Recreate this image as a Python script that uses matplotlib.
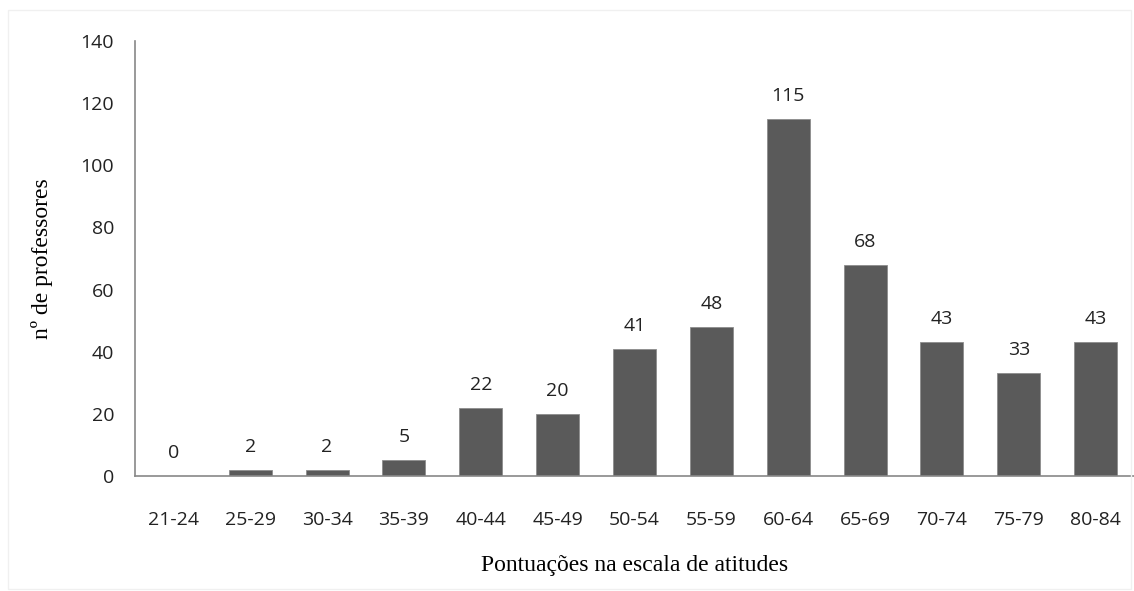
import matplotlib.pyplot as plt
from matplotlib.patches import Rectangle

# Categories and counts.
categories = ['21-24', '25-29', '30-34', '35-39', '40-44', '45-49', '50-54',
              '55-59', '60-64', '65-69', '70-74', '75-79', '80-84']
counts = [0, 2, 2, 5, 22, 20, 41, 48, 115, 68, 43, 33, 43]
yticks = [0, 20, 40, 60, 80, 100, 120, 140]

fig = plt.figure(figsize=(11.34, 5.91), dpi=100)
ax = fig.add_axes([0.119, 0.1946, 0.881, 0.736])

# Thin light frame around the whole picture.
fig.patches.append(Rectangle((0.007, 0.003), 0.99, 0.98, transform=fig.transFigure,
                             fill=False, edgecolor='#f0f0f0', linewidth=1))

x = range(len(categories))
ax.bar(x, counts, width=0.56, color='#5a5a5a', edgecolor='#8c8c8c', linewidth=0.6)

# Value labels above bars.
for i, v in enumerate(counts):
    ax.text(i, v + 4.5, str(v), ha='center', va='bottom', fontsize=14,
            family='Open Sans', color='#222222')

ax.set_xlim(-0.5, len(categories) - 0.5)
ax.set_ylim(0, 140)
ax.set_yticks(yticks)
ax.set_xticks(list(x))
ax.set_xticklabels(categories)
ax.tick_params(length=0, labelsize=14, colors='#222222')
ax.tick_params(axis='x', pad=25)
ax.tick_params(axis='y', pad=15)
for lab in ax.get_xticklabels() + ax.get_yticklabels():
    lab.set_family('Open Sans')

for s in ['top', 'right']:
    ax.spines[s].set_visible(False)
for s in ['left', 'bottom']:
    ax.spines[s].set_color('#888888')
    ax.spines[s].set_linewidth(1.2)

ax.set_ylabel('nº de professores', family='Liberation Serif', fontsize=17, labelpad=20)
ax.set_xlabel('Pontuações na escala de atitudes', family='Liberation Serif',
              fontsize=17, labelpad=19)

fig.savefig('out.png', dpi=100)
